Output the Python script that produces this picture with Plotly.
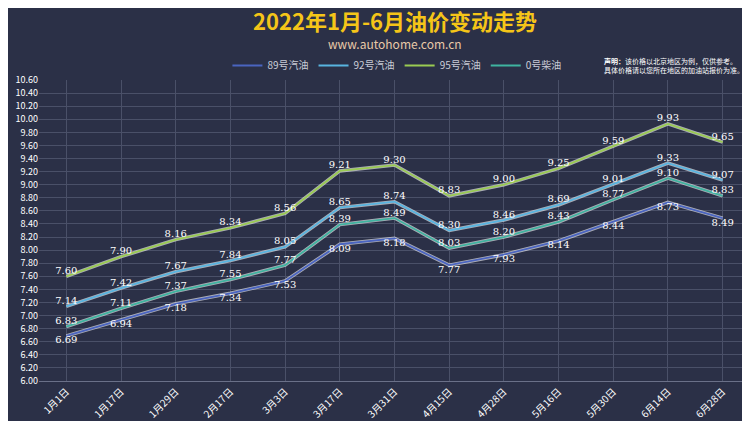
import plotly.graph_objects as go

dates = ["1月1日","1月17日","1月29日","2月17日","3月3日","3月17日","3月31日","4月15日","4月28日","5月16日","5月30日","6月14日","6月28日"]
p89 = [6.69,6.94,7.18,7.34,7.53,8.09,8.18,7.77,7.93,8.14,8.44,8.73,8.49]
p92 = [7.14,7.42,7.67,7.84,8.05,8.65,8.74,8.30,8.46,8.69,9.01,9.33,9.07]
p95 = [7.60,7.90,8.16,8.34,8.56,9.21,9.30,8.83,9.00,9.25,9.59,9.93,9.65]
p0 = [6.83,7.11,7.37,7.55,7.77,8.39,8.49,8.03,8.20,8.43,8.77,9.10,8.83]
yticks = [round(6.0 + 0.2*i, 2) for i in range(24)]

series = [("89号汽油", p89, "#4a64c0", "bottom center"),
          ("92号汽油", p92, "#58b4e0", "top center"),
          ("95号汽油", p95, "#9acb52", "top center"),
          ("0号柴油", p0, "#3fb3a0", "top center")]

fig = go.Figure()
for name, vals, col, pos in series:
    fig.add_trace(go.Scatter(x=dates, y=vals, mode="lines", line=dict(color="rgba(255,255,255,0.6)", width=3.5),
                             showlegend=False, hoverinfo="skip"))
    fig.add_trace(go.Scatter(x=dates, y=vals, name=name, mode="lines+text", line=dict(color=col, width=1.8),
                             text=[f"{v:.2f}" for v in vals], textposition=pos,
                             textfont=dict(color="white", size=10, family="DejaVu Serif")))

fig.update_layout(
    width=750, height=421, paper_bgcolor="#2b3047", plot_bgcolor="#2b3047",
    margin=dict(l=30, r=8, t=72, b=43),
    font=dict(family="Noto Sans CJK SC", color="white"),
    legend=dict(orientation="h", x=0.265, y=1.0, xanchor="left", yanchor="bottom",
                font=dict(size=10, color="#c9cbd6"), bgcolor="rgba(0,0,0,0)"),
    xaxis=dict(showgrid=True, gridcolor="#4a5068", tickangle=-45, tickfont=dict(size=10),
               showline=True, linecolor="#6a7088", range=[-0.5, 12.5]),
    yaxis=dict(range=[6.0, 10.6], tickvals=yticks, ticktext=[f"{v:.2f}" for v in yticks],
               gridcolor="#4a5068", tickfont=dict(size=9), zeroline=False),
    annotations=[
        dict(text="<b>2022年1月-6月油价变动走势</b>", x=0.5, y=1.2, xref="paper", yref="paper",
             showarrow=False, yanchor="middle", font=dict(size=22, color="#f5c518")),
        dict(text="www.autohome.com.cn", x=0.5, y=1.12, xref="paper", yref="paper", showarrow=False,
             yanchor="middle", font=dict(size=12, color="#e8c9a8")),
        dict(text="<b>声明：</b>该价格以北京地区为例，仅供参考。<br>具体价格请以您所在地区的加油站报价为准。",
             x=0.995, y=1.01, xref="paper", yref="paper", xanchor="right", yanchor="bottom",
             showarrow=False, align="left", font=dict(size=7, color="white")),
    ],
)
fig.write_html("out.html")
